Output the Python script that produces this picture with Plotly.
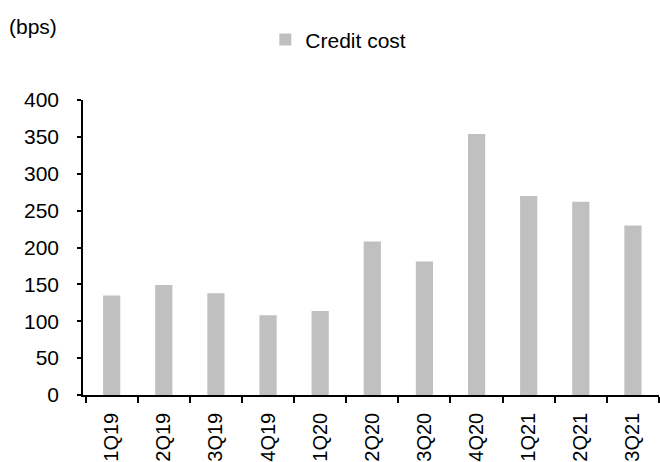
import plotly.graph_objects as go

categories = ["1Q19", "2Q19", "3Q19", "4Q19", "1Q20", "2Q20", "3Q20", "4Q20", "1Q21", "2Q21", "3Q21"]
credit_cost = [135, 149, 138, 108, 114, 208, 181, 354, 270, 262, 230]
y_ticks = [0, 50, 100, 150, 200, 250, 300, 350, 400]

FONT = "Liberation Sans, Arial, sans-serif"

fig = go.Figure()
fig.add_trace(go.Bar(
    x=categories, y=credit_cost, name="Credit cost",
    marker=dict(color="#c0c0c0", line=dict(width=0)),
    width=0.33,
))

fig.update_layout(
    width=660, height=462,
    margin=dict(l=83, r=1, t=100, b=67),
    plot_bgcolor="white", paper_bgcolor="white",
    font=dict(family=FONT, size=21, color="black"),
    showlegend=True,
    legend=dict(orientation="h", xref="container", yref="container",
                x=0.402, y=0.914, xanchor="left", yanchor="middle",
                font=dict(size=21), itemwidth=30, bgcolor="rgba(0,0,0,0)"),
    bargap=0.67,
    annotations=[dict(text="(bps)", xref="paper", yref="paper", x=0, y=1,
                      xanchor="left", yanchor="middle", showarrow=False,
                      font=dict(size=21), xshift=-76, yshift=74)],
)
fig.update_xaxes(
    type="category", showline=True, linecolor="black", linewidth=1.5,
    ticks="outside", ticklen=6, tickcolor="black", tickwidth=1.5,
    tickson="boundaries", tickangle=-90, showgrid=False,
    tickfont=dict(size=20), range=[-0.55, 10.5], ticklabelstandoff=8,
)
fig.update_yaxes(
    range=[0, 400], tickvals=y_ticks, showline=True, linecolor="black",
    linewidth=1.5, ticks="outside", ticklen=4, tickcolor="black", tickwidth=1.5,
    showgrid=False, zeroline=False, tickfont=dict(size=21), ticklabelstandoff=14,
)

fig.write_html("out.html")
